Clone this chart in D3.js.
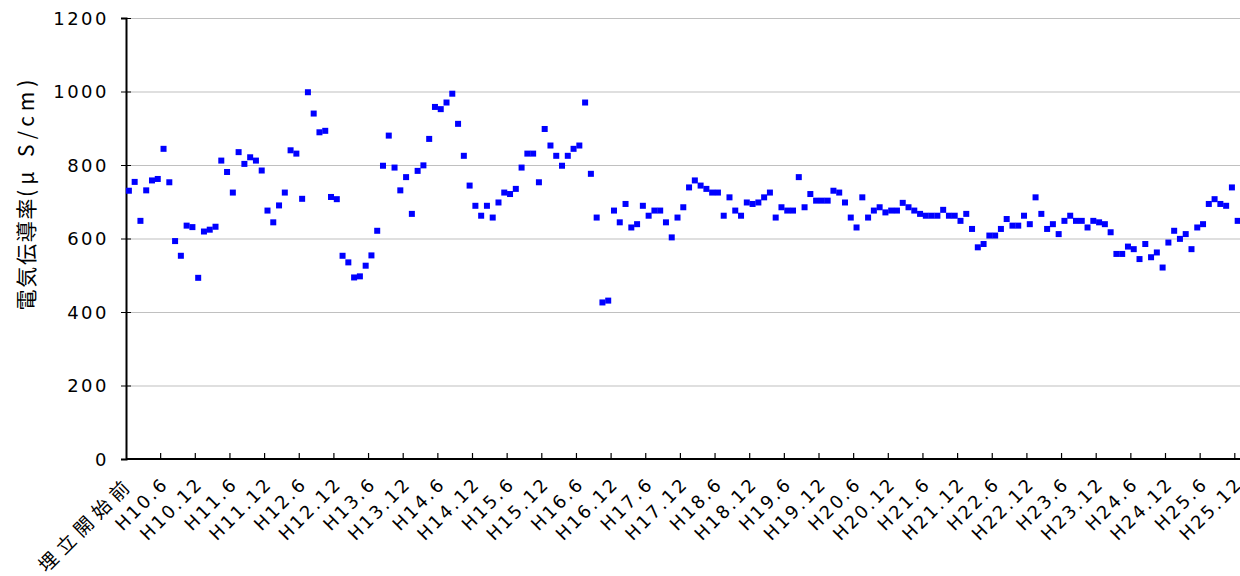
<!DOCTYPE html>
<html>
<head>
<meta charset="utf-8">
<script src="https://cdn.jsdelivr.net/npm/d3@7"></script>
<style>
body { margin: 0; background: #fff; }
svg { display: block; }
.tick-label { font-family: "DejaVu Sans", sans-serif; font-size: 18px; letter-spacing: 2.5px; fill: #000; }
.cjk-label { font-family: "Noto Sans CJK JP", sans-serif; font-size: 19px; letter-spacing: 6px; }
.axis-title { font-family: "Noto Sans CJK JP", sans-serif; font-size: 21px; letter-spacing: 1.7px; fill: #000; }
</style>
</head>
<body>
<div id="chart"></div>
<script>
// monthly conductivity readings (μS/cm), first one is before landfill start, then H10.1 ...
const values = [
  730, 754, 648, 731, 758, 762, 844, 753, 593, 553, 635, 631, 493, 619, 624, 632,
  812, 781, 725, 835, 803, 821, 812, 785, 676, 644, 690, 725, 840, 831, 708, 998,
  940, 889, 893, 713, 707, 553, 535, 494, 497, 526, 554, 621, 798, 880, 793, 731,
  767, 667, 784, 799, 871, 958, 952, 970, 994, 912, 825, 744, 689, 662, 689, 657,
  698, 725, 721, 735, 793, 831, 831, 753, 898, 853, 825, 798, 825, 844, 853, 970,
  776, 657, 426, 431, 676, 644, 694, 630, 639, 689, 662, 676, 676, 644, 603, 657,
  685, 739, 758, 744, 735, 725, 725, 662, 712, 676, 662, 698, 694, 698, 712, 725,
  657, 685, 676, 676, 767, 685, 721, 703, 703, 703, 730, 725, 698, 657, 630, 712,
  657, 676, 685, 671, 676, 676, 697, 685, 676, 667, 662, 662, 662, 678, 662, 662,
  648, 667, 626, 576, 585, 608, 608, 626, 653, 635, 635, 662, 639, 712, 667, 626,
  639, 612, 648, 662, 648, 648, 630, 648, 644, 639, 617, 558, 558, 578, 571, 544,
  585, 549, 562, 521, 589, 621, 599, 612, 571, 630, 639, 694, 707, 694, 689, 739,
  648, 685
]

// one label every 6 months
const xLabels = [
  '埋立開始前', 'H10.6', 'H10.12', 'H11.6', 'H11.12', 'H12.6', 'H12.12', 'H13.6', 'H13.12',
  'H14.6', 'H14.12', 'H15.6', 'H15.12', 'H16.6', 'H16.12', 'H17.6', 'H17.12', 'H18.6',
  'H18.12', 'H19.6', 'H19.12', 'H20.6', 'H20.12', 'H21.6', 'H21.12', 'H22.6', 'H22.12',
  'H23.6', 'H23.12', 'H24.6', 'H24.12', 'H25.6', 'H25.12'
]
const labelStep = 6

const yTicks = [0, 200, 400, 600, 800, 1000, 1200]
const yTitleMain = '電気伝導率'
const yTitleUnit = '(μ S/cm)'

const width = 1240, height = 576
const margin = { left: 126, top: 18, bottom: 117 }
const band = 5.775

const svg = d3.select('#chart')
  .append('svg')
  .attr('width', width)
  .attr('height', height)

const x = d3.scaleBand()
  .domain(d3.range(values.length))
  .range([margin.left, margin.left + values.length * band])
  .paddingInner(0)

const y = d3.scaleLinear()
  .domain([0, 1200])
  .range([height - margin.bottom, margin.top])

const plotRight = margin.left + values.length * band

// grid
svg.append('g')
  .selectAll('line')
  .data(yTicks.filter(d => d > 0))
  .join('line')
  .attr('x1', margin.left)
  .attr('x2', plotRight)
  .attr('y1', d => y(d) + 0.5)
  .attr('y2', d => y(d) + 0.5)
  .attr('stroke', '#c0c0c0')
  .attr('stroke-width', 1.2)

// y axis
const yAxis = svg.append('g')
  .attr('transform', `translate(${margin.left},0)`)
  .call(d3.axisLeft(y).tickValues(yTicks).tickFormat(d3.format('d')).tickSize(5).tickPadding(12))

yAxis.select('.domain').attr('stroke', '#000').attr('stroke-width', 2)
yAxis.selectAll('.tick line').attr('stroke', '#000').attr('x2', 5).attr('x1', -5)
yAxis.selectAll('.tick text')
  .attr('class', 'tick-label')
  .attr('font-family', null)
  .attr('font-size', null)
  .attr('dy', '0.36em')

// x axis: ticks every 6 categories, labels rotated
const tickIdx = d3.range(0, values.length, labelStep).slice(1)
const xAxis = svg.append('g')
xAxis.append('line')
  .attr('x1', margin.left)
  .attr('x2', plotRight)
  .attr('y1', y(0))
  .attr('y2', y(0))
  .attr('stroke', '#000')
  .attr('stroke-width', 2)

xAxis.selectAll('.xtick')
  .data(tickIdx)
  .join('line')
  .attr('class', 'xtick')
  .attr('x1', d => x(d))
  .attr('x2', d => x(d))
  .attr('y1', y(0))
  .attr('y2', y(0) - 6)
  .attr('stroke', '#000')
  .attr('stroke-width', 1.2)

xAxis.selectAll('.xlabel')
  .data(xLabels)
  .join('text')
  .attr('class', (d, i) => i === 0 ? 'tick-label xlabel cjk-label' : 'tick-label xlabel')
  .attr('text-anchor', 'end')
  .attr('transform', (d, i) => {
    const cx = x(i * labelStep) + x.bandwidth() / 2 + 6
    return `translate(${cx},${y(0) + 26}) rotate(-45)`
  })
  .text(d => d)

// y title
const title = svg.append('text')
  .attr('class', 'axis-title')
  .attr('text-anchor', 'middle')
  .attr('transform', `translate(34,${(y(0) + y(1200)) / 2 - 46}) rotate(-90)`)
title.append('tspan').text(yTitleMain)
title.append('tspan').attr('letter-spacing', '5px').text(yTitleUnit)

// points
const s = 6
svg.append('g')
  .selectAll('rect')
  .data(values)
  .join('rect')
  .attr('x', (d, i) => x(i) + x.bandwidth() / 2 - s / 2)
  .attr('y', d => y(d) - s / 2)
  .attr('width', s)
  .attr('height', s)
  .attr('fill', '#0000ff')
</script>
</body>
</html>
